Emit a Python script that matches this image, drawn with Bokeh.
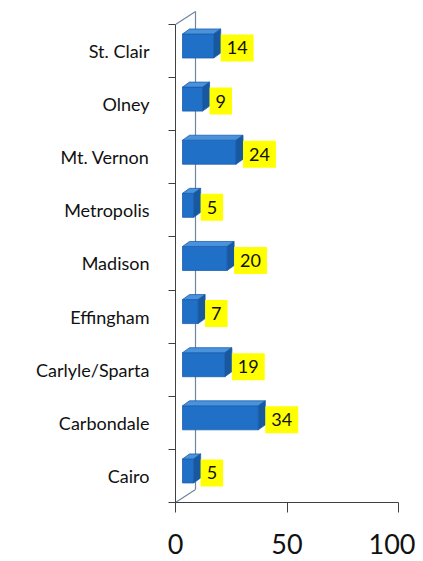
from bokeh.plotting import figure
from bokeh.models import Range1d, FixedTicker, ColumnDataSource
from bokeh.core.properties import value
from bokeh.embed import file_html
from bokeh.resources import INLINE

# data (bottom to top)
categories = ["Cairo", "Carbondale", "Carlyle/Sparta", "Effingham", "Madison",
              "Metropolis", "Mt. Vernon", "Olney", "St. Clair"]
counts = [5, 34, 19, 7, 20, 5, 24, 9, 14]
x_ticks = [0, 50, 100]

FONT = "Lato"
W, H = 415, 561
FL, FR, FT, FB = 175, 17, 8, 59          # frame borders (px)
X0, X1 = 0, 100
Y0, Y1 = 0, 9.3
fw, fh = W - FL - FR, H - FT - FB
sx = (X1 - X0) / fw                      # data per px
sy = (Y1 - Y0) / fh

p = figure(width=W, height=H, output_backend="svg", toolbar_location=None,
           x_range=Range1d(X0, X1), y_range=Range1d(Y0, Y1),
           min_border_left=FL, min_border_right=FR, min_border_top=FT,
           min_border_bottom=FB)
p.outline_line_color = None
p.grid.visible = False
p.background_fill_color = "white"

n = len(categories)
# back wall / floor (3D frame)
wdx, wdy = 20 * sx, 13 * sy
p.segment(x0=[0, 0, wdx], y0=[n, 0, wdy], x1=[wdx, wdx, wdx], y1=[n + wdy, wdy, n + wdy],
          line_color="#6f86a0", line_width=1.2)

# bars
dx, dy = 7 * sx, 5 * sy
half = 12 * sy
off_x = 7 * sx
L, R, T, B = [], [], [], []
top_xs, top_ys, side_xs, side_ys = [], [], [], []
lx, ly, lab = [], [], []
for i, (c, v) in enumerate(zip(categories, counts)):
    yc = i + 0.5 + 5 * sy
    l, r, t, b = off_x, v + off_x, yc + half, yc - half
    L.append(l); R.append(r); T.append(t); B.append(b)
    top_xs.append([l, r, r + dx, l + dx]); top_ys.append([t, t, t + dy, t + dy])
    side_xs.append([r, r, r + dx, r + dx]); side_ys.append([b, t, t + dy, b + dy])
    lx.append(r + dx); ly.append(i + 0.5 + 3 * sy); lab.append(str(v))

p.quad(left=L, right=R, top=T, bottom=B, fill_color="#1f70c6", line_color="#1a5fae", line_width=0.8)
p.patches(xs=top_xs, ys=top_ys, fill_color="#4a92dc", line_color="#1a5fae", line_width=0.8)
p.patches(xs=side_xs, ys=side_ys, fill_color="#17589e", line_color="#1a5fae", line_width=0.8)

src = ColumnDataSource(dict(x=lx, y=ly, t=lab))
p.text(x="x", y="y", text="t", source=src, text_font=value(FONT),
       text_font_size=value("18px"), text_color="#111111",
       text_align="left", text_baseline="middle",
       background_fill_color="#FFFF00",
       padding=dict(left=6, right=6, top=7, bottom=7))

# y axis: labels at band centres, ticks at band boundaries
ya = p.yaxis[0]
centers = [i + 0.5 for i in range(n)]
ya.ticker = FixedTicker(ticks=centers, minor_ticks=list(range(n + 1)))
ya.major_label_overrides = {c: name for c, name in zip(centers, categories)}
ya.bounds = (0, n)
ya.major_tick_out = 0
ya.major_tick_in = 0
ya.minor_tick_out = 7
ya.minor_tick_in = 0
ya.major_label_standoff = 19
ya.major_label_text_font = FONT
ya.major_label_text_font_size = "18px"
ya.major_label_text_color = "#111111"
ya.axis_line_color = "#404040"
ya.minor_tick_line_color = "#404040"

xa = p.xaxis[0]
xa.ticker = FixedTicker(ticks=x_ticks, minor_ticks=[])
xa.bounds = (0, 100)
xa.major_tick_out = 10
xa.major_tick_in = 0
xa.major_label_standoff = 21
xa.major_label_text_font = FONT
xa.major_label_text_font_size = "27px"
xa.major_label_text_color = "#111111"
xa.axis_line_color = "#404040"
xa.major_tick_line_color = "#404040"

open("out.html", "w").write(file_html(p, INLINE))
